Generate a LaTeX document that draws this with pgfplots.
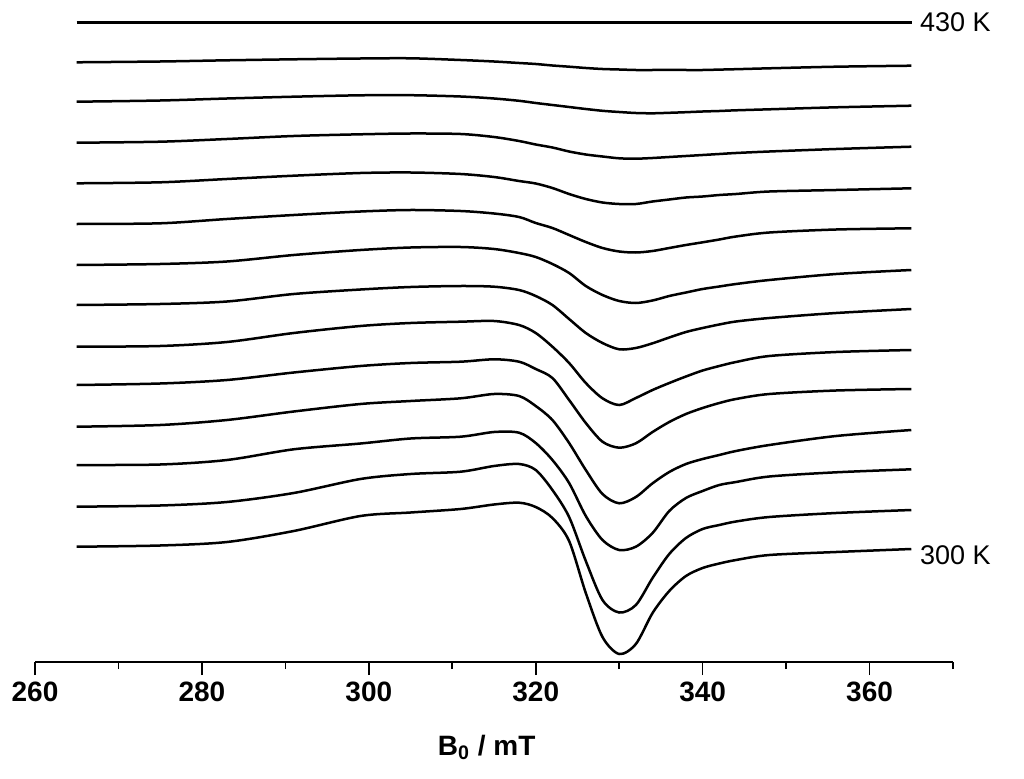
\documentclass[border=0pt]{standalone}
\usepackage{fontspec}
\setmainfont{Liberation Sans}
\usepackage{pgfplots}
\pgfplotsset{compat=1.18}
\usepackage{pgfplotstable}
\pgfplotsset{spec/.style={black, solid, line width=1.25pt, smooth, mark=none}}
\pgfplotstableread{
B   T300  T310  T320  T330  T340  T350  T360  T370  T380  T390  T400  T410  T420  T430
265 115.3 155.3 197   235.3 277   315.3 357   397   438   478.7 519.3 560.3 599.7 639.7
275 116.5 156.5 197.5 237   278.5 316   358   398   438.7 479.7 520.3 561.5 600.5 639.7
283 120   160   202   242   282   320   360.5 400.5 443   483   523   563.5 601.7 639.7
291 131   169   212.7 250.5 289.5 329   368   407   447   486.3 526   565.3 602.7 639.7
299 146   183   218.5 258   296   336   372.5 412   450.5 489   527.7 566.7 603.5 639.7
305 149.5 188   223.5 261   299   339   375   414.5 452   489.5 528.5 566.8 603.7 639.7
311 153   190.3 225.3 263.7 300.3 340.3 376   415   451   488   528   565.5 602   639.7
315 157.5 196   230   268   302.7 341   375.3 413   448.5 485   525   563.5 600.5 639.7
318 159.3 198   229.3 266   300.3 337   372   409   445   481   521   561.2 599   639.7
320 155   192   219   256   293   329   366   405   439   478.5 517.5 559   598   639.7
322 144   172   202   242   284   315.3 357   398   434   474   514.5 557   596.5 639.7
324 121   145   179   219   262   299   343   389   427   468   510.5 555   595.3 639.7
326 69    101   146   192   239   279   329   376   420   463   507.5 553   594   639.7
328 25    62    122   168   220.3 263.7 319   367   414   459.5 505.5 551.2 593   639.7
330 8     49.5  112   158.7 214.3 257   312.7 361   410.5 458   503.7 550   592.5 639.7
332 18    57    115.3 165   218.7 264   314   359   409.5 458   503.3 549   592   639.7
334 49    84    129   178.7 230   272   318.7 361.5 411   460.5 504   548.7 592   639.7
336 71    108   151   190   240   279   324.5 366   414   462.5 505   549.2 592   639.7
338 86    124   164   198   248   285.5 330   369.5 417   464.5 506   549.8 592   639.7
340 94    133   171   203   254   291.5 334   373   419.7 465.5 507   550.5 592   639.7
342 98.5  137   177   207   259   296   337.5 375.5 422.5 467   508   551   592.4 639.7
344 102   140.5 180   211   263   300   340.5 378   425.5 468   509   551.7 592.8 639.7
348 107   145   185.5 217   268   306   344   382   429.5 470.5 510.5 552.7 593.7 639.7
356 110   149   189.7 226   271.5 310   349   388   432.5 472   513   554.7 595.3 639.7
365 113   152   192.7 232   273   312   353   392   433.7 473.7 515.3 556.3 596.3 639.7
}\spectra
\begin{document}
\begin{tikzpicture}
\path[use as bounding box] (0,0) rectangle (512pt,389pt);
\begin{axis}[
  at={(17.5pt,58pt)}, anchor=south west,
  scale only axis, width=459pt, height=330pt,
  xmin=260, xmax=370, ymin=0, ymax=660,
  hide y axis,
  axis x line*=bottom,
  x axis line style={-, line width=1pt},
  xtick={260,280,...,360},
  minor xtick={270,290,...,370},
  tick align=outside,
  major tick length=6.5pt, minor tick length=3.5pt,
  tick style={black, line width=0.8pt},
  minor tick style={black, line width=0.8pt},
  xticklabel style={font=\bfseries\fontsize{14}{14}\selectfont},
  /pgf/number format/assume math mode=true,
  xlabel={\bfseries B\textsubscript{0} / mT},
  xlabel style={font=\fontsize{14}{14}\selectfont, at={(axis description cs:0.492,0)}, anchor=base, yshift=-46.5pt},
  clip=false,
]
\addplot[spec] table[x=B,y=T300]{\spectra};
\addplot[spec] table[x=B,y=T310]{\spectra};
\addplot[spec] table[x=B,y=T320]{\spectra};
\addplot[spec] table[x=B,y=T330]{\spectra};
\addplot[spec] table[x=B,y=T340]{\spectra};
\addplot[spec] table[x=B,y=T350]{\spectra};
\addplot[spec] table[x=B,y=T360]{\spectra};
\addplot[spec] table[x=B,y=T370]{\spectra};
\addplot[spec] table[x=B,y=T380]{\spectra};
\addplot[spec] table[x=B,y=T390]{\spectra};
\addplot[spec] table[x=B,y=T400]{\spectra};
\addplot[spec] table[x=B,y=T410]{\spectra};
\addplot[spec] table[x=B,y=T420]{\spectra};
\addplot[spec] table[x=B,y=T430]{\spectra};
\node[anchor=west, inner sep=0pt, font=\fontsize{13.5}{13.5}\selectfont] at (axis cs:366,640) {430 K};
\node[anchor=west, inner sep=0pt, font=\fontsize{13.5}{13.5}\selectfont] at (axis cs:366,107) {300 K};
\end{axis}
\end{tikzpicture}
\end{document}
